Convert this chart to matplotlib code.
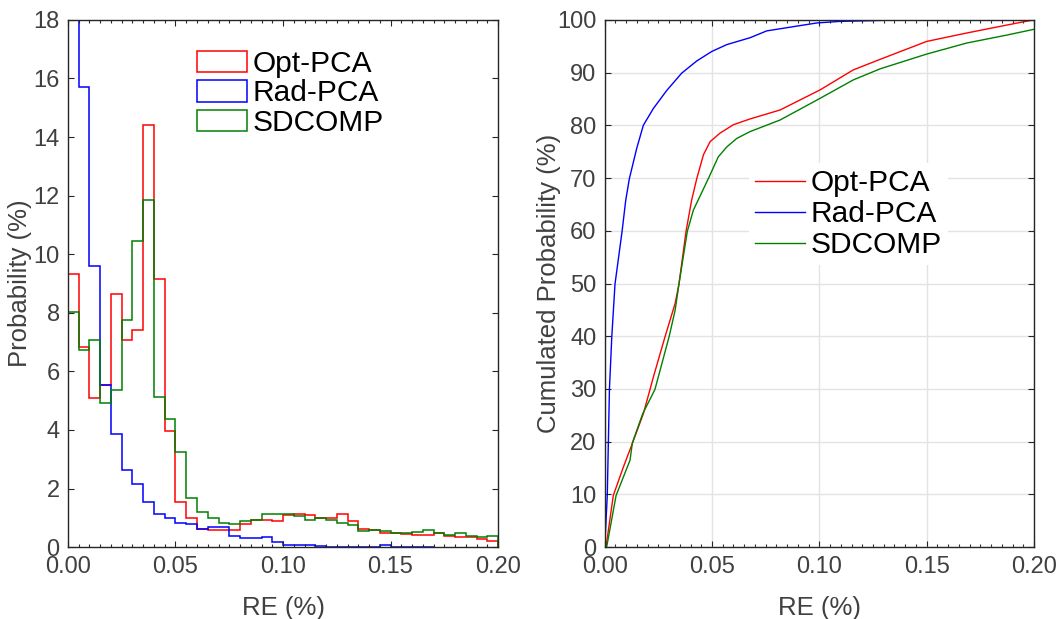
import numpy as np
import matplotlib
matplotlib.use("Agg")
import matplotlib.pyplot as plt
from matplotlib.ticker import MultipleLocator, FormatStrFormatter

plt.rcParams['font.family'] = ['Liberation Sans', 'DejaVu Sans']

series = ["Opt-PCA", "Rad-PCA", "SDCOMP"]
colors = ["#ff0000", "#0000ff", "#008000"]

bin_width = 0.005
# histogram probabilities (%) per 0.005 bin
hist_opt = [9.32, 6.83, 5.08, 5.55, 8.63, 7.06, 7.43, 14.41, 9.17, 3.96,
            1.55, 0.99, 0.63, 0.59, 0.57, 0.59, 0.80, 0.93, 0.93, 0.88,
            1.09, 1.13, 1.10, 0.99, 0.99, 1.13, 0.91, 0.62, 0.59, 0.47,
            0.50, 0.46, 0.42, 0.40, 0.50, 0.39, 0.36, 0.36, 0.28, 0.22]
hist_rad = [24.0, 15.7, 9.6, 5.52, 3.85, 2.64, 2.15, 1.55, 1.14, 0.99,
            0.83, 0.78, 0.62, 0.68, 0.69, 0.37, 0.30, 0.31, 0.35, 0.17,
            0.08, 0.07, 0.07, 0.03, 0.02, 0.02, 0.02, 0.02, 0.02, 0.08,
            0.0, 0.0, 0.0, 0.0]
hist_sd = [8.03, 6.74, 7.08, 4.91, 5.35, 7.77, 10.44, 11.84, 5.13, 4.39,
           3.25, 1.68, 1.20, 1.00, 0.83, 0.78, 0.88, 0.94, 1.14, 1.12,
           1.14, 1.05, 0.93, 0.98, 0.93, 0.82, 0.75, 0.54, 0.59, 0.54,
           0.50, 0.48, 0.51, 0.58, 0.48, 0.41, 0.49, 0.39, 0.35, 0.39]

# cumulative curves (RE %, cumulated probability %)
cdf_opt_x = [0, 0.0006, 0.004, 0.0087, 0.013, 0.018, 0.0211, 0.0227, 0.0281, 0.0328,
             0.0346, 0.0379, 0.0405, 0.0429, 0.046, 0.0491, 0.0537, 0.0599, 0.0677,
             0.0817, 0.1003, 0.1158, 0.1283, 0.15, 0.1687, 0.1873, 0.2]
cdf_opt_y = [0, 0, 9.8, 15.2, 19.8, 25.3, 29.9, 32.3, 39.9, 46.2,
             49.9, 59.9, 65.8, 69.9, 74.4, 76.9, 78.5, 80.1, 81.2,
             82.9, 86.7, 90.5, 92.5, 95.9, 97.5, 99.0, 100]
cdf_rad_x = [0, 0.0012, 0.0017, 0.0022, 0.0033, 0.0048, 0.0081, 0.0098, 0.0115, 0.0149,
             0.018, 0.0227, 0.0289, 0.0359, 0.0429, 0.0499, 0.0569, 0.0677, 0.0755,
             0.0879, 0.0988, 0.1096, 0.13, 0.15, 0.17]
cdf_rad_y = [0, 9.8, 19.8, 29.9, 39.9, 49.9, 59.9, 65.8, 69.9, 75.6,
             80.0, 83.2, 86.6, 89.9, 92.2, 94.0, 95.3, 96.6, 97.9,
             98.7, 99.4, 99.7, 99.9, 100, 100]
cdf_sd_x = [0, 0.0009, 0.0053, 0.0118, 0.0129, 0.0177, 0.0234, 0.03, 0.0328, 0.0346,
            0.0385, 0.0413, 0.0483, 0.0529, 0.0569, 0.0615, 0.0677, 0.0817, 0.1003,
            0.1158, 0.1283, 0.15, 0.1687, 0.1873, 0.2]
cdf_sd_y = [0, 0, 9.8, 16.5, 19.8, 25.3, 29.9, 39.9, 44.9, 49.9,
            59.9, 63.9, 69.9, 74.0, 75.9, 77.5, 78.8, 81.0, 85.1,
            88.6, 90.7, 93.5, 95.6, 97.1, 98.2]

hists = [hist_opt, hist_rad, hist_sd]
cdfs = [(cdf_opt_x, cdf_opt_y), (cdf_rad_x, cdf_rad_y), (cdf_sd_x, cdf_sd_y)]

TICK_C = '#404040'
SPINE_C = '#262626'
TICK_FS = 17
LABEL_FS = 18.5
LEG_FS = 21.5

fig = plt.figure(figsize=(10.62, 6.19), dpi=100)
ax1 = fig.add_axes([0.064, 0.116, 0.405, 0.852])
ax2 = fig.add_axes([0.5694, 0.116, 0.4042, 0.852])


def style(ax):
    for s in ax.spines.values():
        s.set_color(SPINE_C)
        s.set_linewidth(1.0)
    ax.tick_params(which='both', direction='in', top=True, right=True,
                   colors=SPINE_C, labelcolor=TICK_C, labelsize=TICK_FS)
    ax.tick_params(which='major', length=4.5, width=0.8)
    ax.tick_params(which='minor', length=2.5, width=0.8)
    ax.tick_params(axis='x', pad=6.5)
    ax.tick_params(axis='y', pad=6)
    ax.xaxis.set_major_locator(MultipleLocator(0.05))
    ax.xaxis.set_minor_locator(MultipleLocator(0.005))
    ax.xaxis.set_major_formatter(FormatStrFormatter('%.2f'))
    ax.set_xlim(0, 0.2)
    ax.set_xlabel('RE (%)', fontsize=LABEL_FS, color=TICK_C)
    ax.xaxis.set_label_coords(0.5, -0.092)


# left: histograms
handles = []
for vals, c, name in zip(hists, colors, series):
    edges = np.arange(len(vals) + 1) * bin_width
    ax1.stairs(vals, edges, color=c, linewidth=1.1, baseline=0, label=name)
    handles.append(matplotlib.patches.Patch(facecolor='white', edgecolor=c,
                                            linewidth=1.1, label=name))
style(ax1)
ax1.set_ylim(0, 18)
ax1.yaxis.set_major_locator(MultipleLocator(2))
ax1.set_ylabel('Probability (%)', fontsize=LABEL_FS, color=TICK_C)
ax1.yaxis.set_label_coords(-0.083, 0.5)
ax1.legend(handles=handles, loc='upper left', bbox_to_anchor=(0.30, 0.943),
           frameon=False, fontsize=LEG_FS, handlelength=1.67, handleheight=0.75,
           labelspacing=0.05, handletextpad=0.18, borderpad=0.0, borderaxespad=0.0)

# right: cumulative curves
for (cx, cy), c, name in zip(cdfs, colors, series):
    ax2.plot(cx, cy, color=c, linewidth=1.0, label=name)
style(ax2)
ax2.set_ylim(0, 100)
ax2.yaxis.set_major_locator(MultipleLocator(10))
ax2.grid(True, which='major', color='#e3e3e3', linewidth=1.0)
ax2.set_axisbelow(True)
ax2.set_ylabel('Cumulated Probability (%)', fontsize=LABEL_FS, color=TICK_C)
ax2.yaxis.set_label_coords(-0.101, 0.5)
leg = ax2.legend(loc='upper left', bbox_to_anchor=(0.336, 0.728),
                 frameon=True, fontsize=LEG_FS, handlelength=1.67,
                 labelspacing=0.1, handletextpad=0.2, borderpad=0.2,
                 borderaxespad=0.0, fancybox=False)
leg.get_frame().set_edgecolor('none')
leg.get_frame().set_facecolor('white')
leg.get_frame().set_alpha(1.0)

fig.savefig('out.png', dpi=100)
